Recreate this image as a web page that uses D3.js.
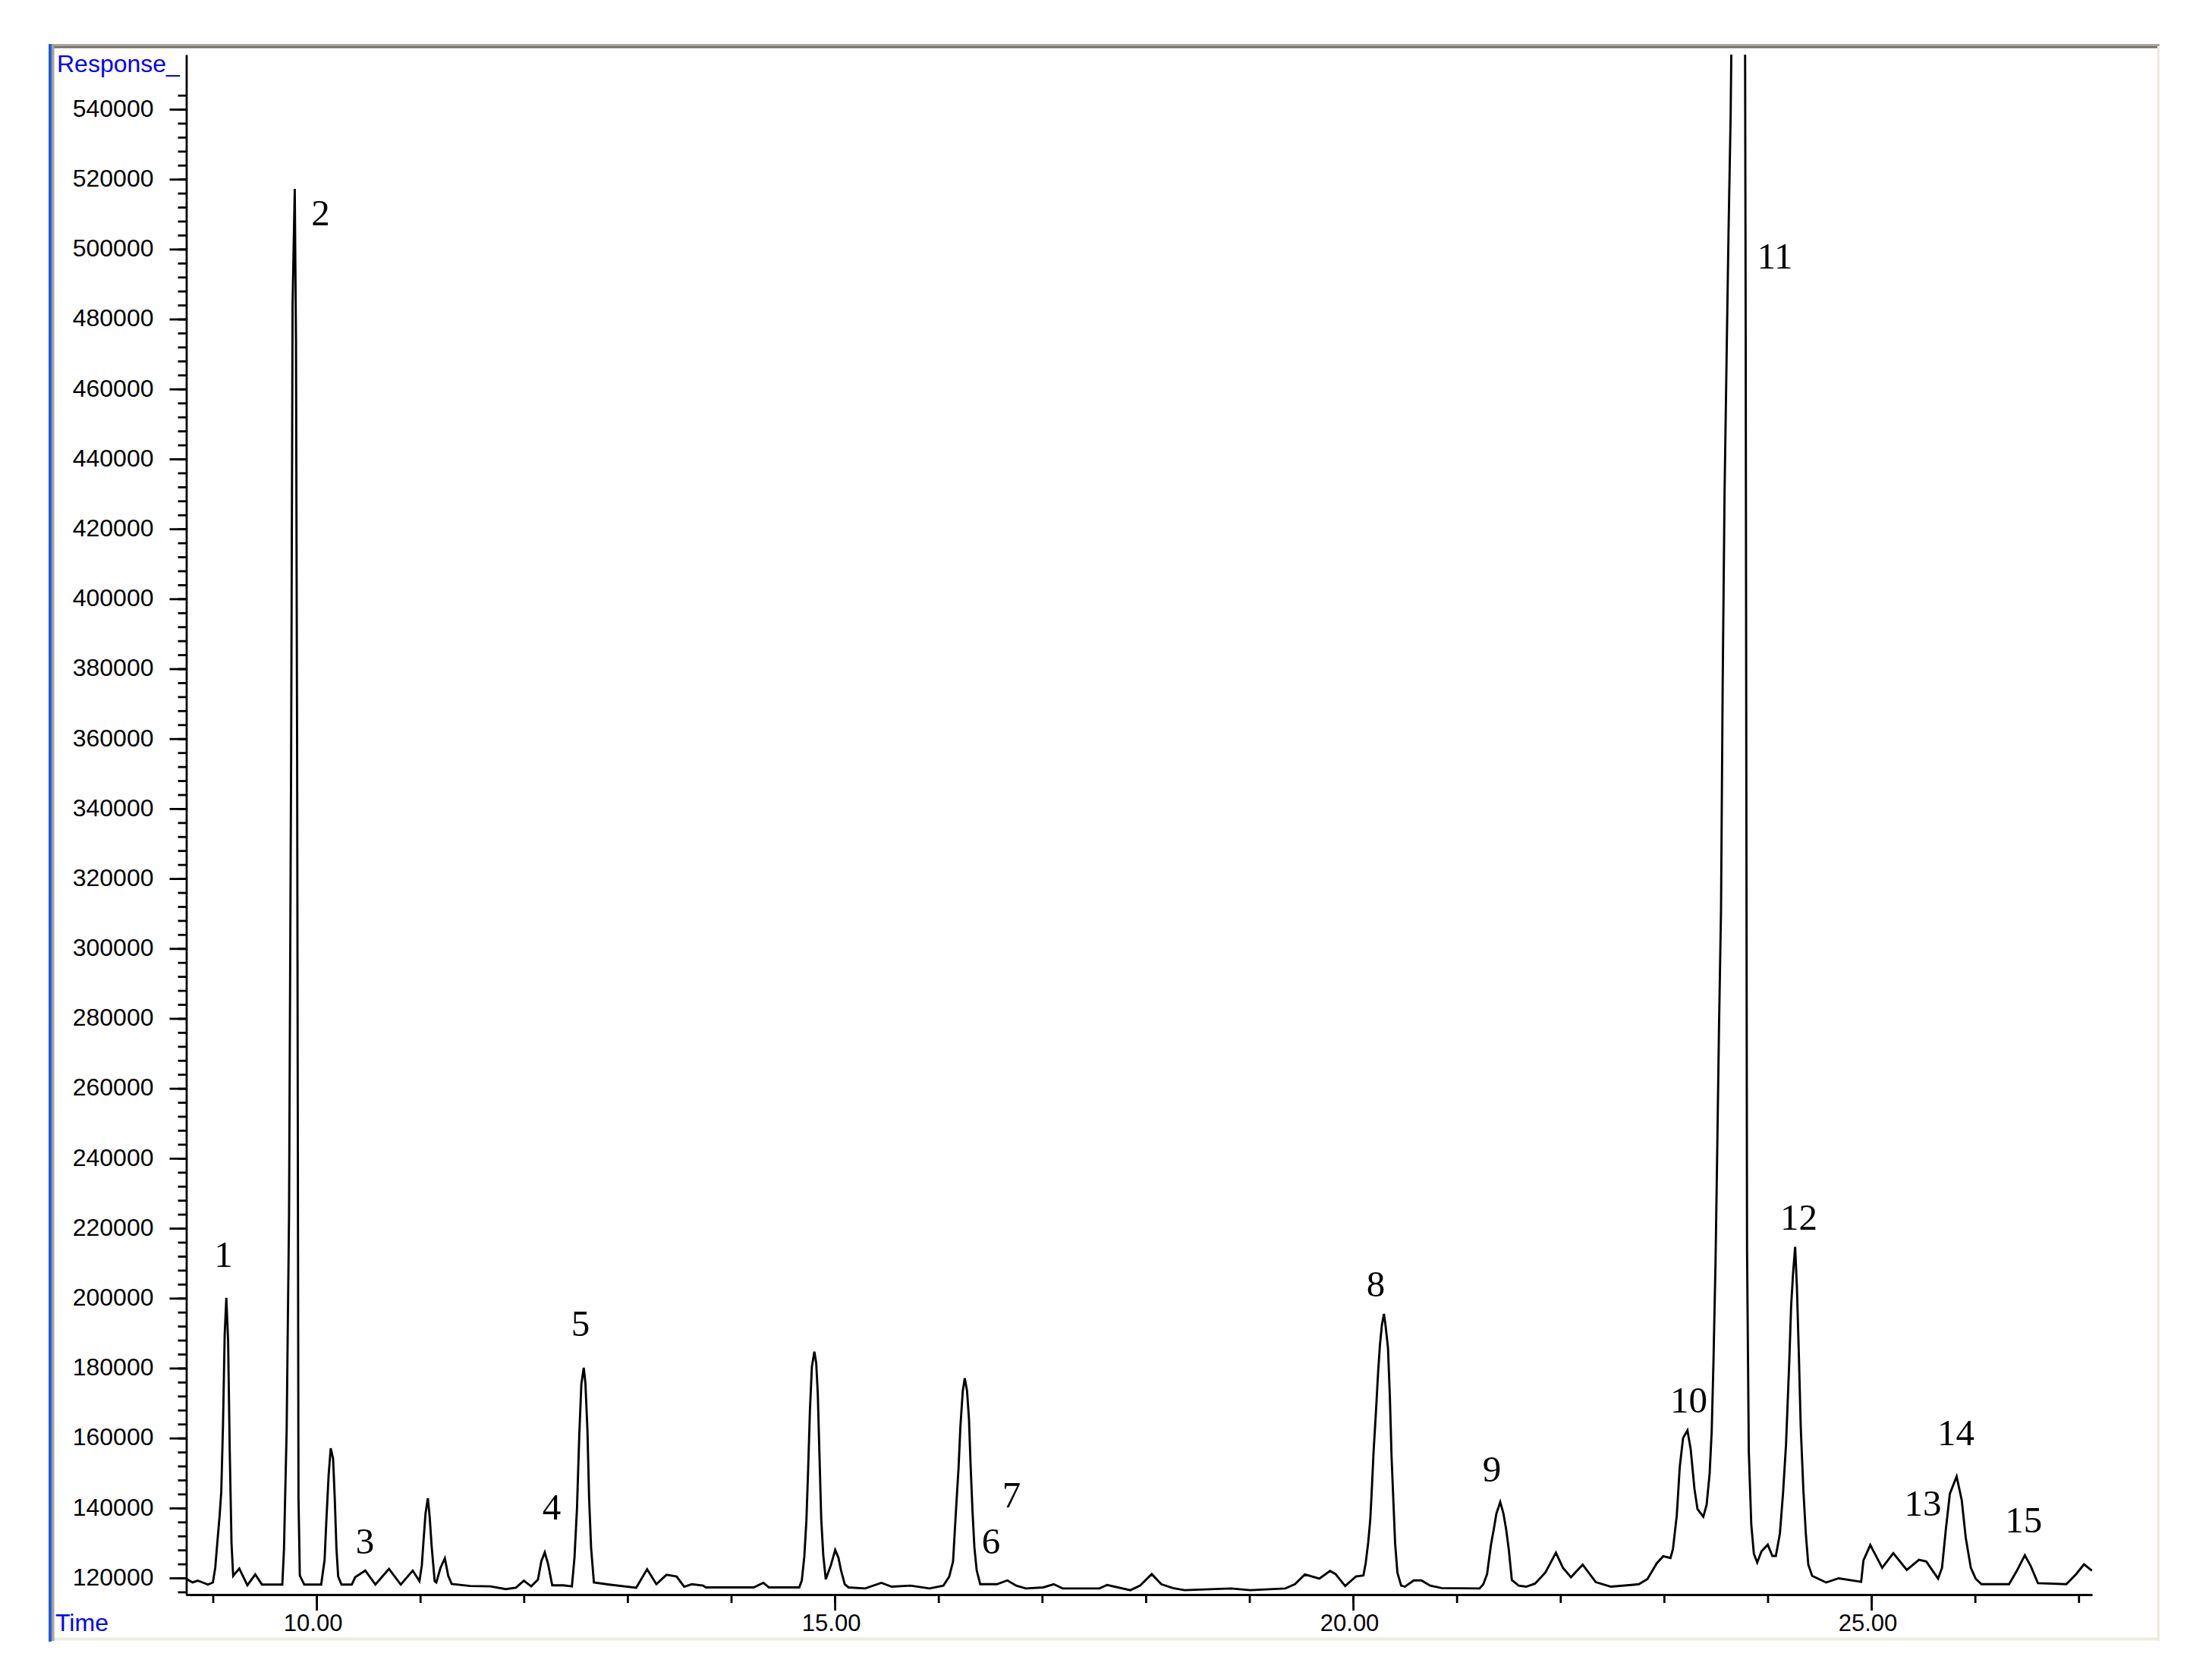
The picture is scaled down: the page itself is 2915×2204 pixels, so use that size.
<!DOCTYPE html>
<html><head><meta charset="utf-8">
<style>html,body{margin:0;padding:0;background:#fff;}svg{display:block;}</style>
<script src="https://cdn.jsdelivr.net/npm/d3@7"></script>
</head><body>
<svg id="c" width="2915" height="2204"></svg>
<script>
// ---- data (retention time in minutes, detector response) ----
const times = [
 8.738,8.804,8.853,8.902,8.951,9.000,9.023,9.043,9.065,9.081,9.098,9.114,9.130,9.147,9.163,9.180,9.196,9.255,9.333,9.409,9.474,9.670,
 9.686,9.712,9.735,9.755,9.769,9.790,9.802,9.813,9.821,9.826,9.839,9.882,10.045,
 10.078,10.094,10.117,10.137,10.160,10.176,10.192,10.209,10.241,10.340,10.373,10.471,10.568,10.699,10.813,10.928,10.993,
 11.016,11.032,11.052,11.074,11.091,11.111,11.140,11.156,11.196,11.238,11.271,11.304,11.483,11.679,11.826,11.924,12.000,12.071,
 12.136,12.169,12.202,12.234,12.274,12.382,12.464,12.489,12.513,12.535,12.555,12.578,12.594,12.614,12.630,12.649,12.676,12.823,
 13.084,13.189,13.279,13.376,13.474,13.547,13.621,13.730,13.755,14.218,14.311,14.364,14.657,
 14.682,14.706,14.726,14.743,14.760,14.779,14.803,14.821,14.836,14.853,14.869,14.889,14.913,14.962,15.004,15.035,15.060,15.096,15.133,
 15.292,15.450,15.548,15.731,15.914,16.048,16.104,16.141,16.171,16.194,16.212,16.235,16.254,16.276,16.295,16.310,16.328,16.347,16.369,16.403,
 16.470,16.564,16.665,16.751,16.843,17.012,17.112,17.198,17.553,17.628,17.852,17.946,18.058,18.150,18.262,18.374,18.822,19.010,19.346,19.439,
 19.535,19.675,19.778,19.831,19.924,20.027,20.100,
 20.122,20.146,20.166,20.181,20.198,20.222,20.242,20.259,20.278,20.298,20.313,20.337,20.355,20.371,20.391,20.406,20.428,20.464,20.501,
 20.586,20.659,20.745,20.855,21.221,21.257,21.293,21.330,21.361,21.383,21.420,21.451,21.476,21.503,21.532,21.598,21.671,
 21.756,21.854,21.957,22.025,22.103,22.215,22.342,22.488,22.684,22.757,22.840,22.930,22.992,23.062,23.086,
 23.123,23.152,23.184,23.226,23.257,23.294,23.323,23.379,23.411,23.440,23.460,23.477,23.497,23.514,23.531,23.550,23.566,23.584,23.606,23.623,23.643,
 23.700,23.782,23.788,23.796,23.801,23.818,23.842,23.867,23.899,23.940,24.001,24.045,24.079,
 24.118,24.148,24.177,24.209,24.226,24.245,24.265,24.282,24.300,24.319,24.344,24.368,24.392,24.429,24.564,24.685,24.902,
 24.924,24.990,25.105,25.212,25.342,25.460,25.530,25.644,25.682,25.720,25.758,25.823,25.872,25.911,25.960,26.006,26.063,
 26.329,26.405,26.481,26.538,26.607,26.881,26.976,27.052,27.128
];
const responses = [
 119850,118700,119240,118700,118100,118700,122900,130100,137700,144600,164000,189500,200100,187900,156000,129800,120600,122700,117900,121000,118100,118100,
 128100,162500,224100,354100,484200,517200,473400,354100,224100,143000,120700,118100,118100,
 125200,135800,149500,157100,154100,142700,128600,120400,118100,118100,120200,122100,118100,122600,118100,122100,119100,
 123600,130500,138500,142800,137700,129000,119100,118700,122900,125600,120600,118300,117700,117600,116800,117200,119200,117600,
 119500,124800,127300,124000,117900,117900,117600,125900,140000,160900,175400,180100,175800,162100,142700,128600,118700,118100,
 117200,122500,118200,120900,120400,117500,118200,117800,117300,117300,118600,117300,117300,
 119300,126100,136300,151100,167700,180400,184700,181400,172700,154300,137000,126500,119600,123600,128000,125800,122200,118200,117300,
 117000,118600,117500,117800,117000,117800,120400,124700,140200,151400,163400,173500,177100,173500,165200,152500,139500,128700,122200,118200,
 118200,118200,119300,117800,117000,117300,118200,117000,117000,118000,116500,117800,121100,118200,117100,116500,117000,116500,117000,118200,
 121000,119800,122000,121100,117700,120400,120700,
 124300,130100,136600,145300,156100,168100,178900,186500,192300,195500,192300,185800,172000,155100,140600,129800,121500,117800,117500,
 119300,119300,117800,117100,117000,118200,121100,129400,134500,138400,141700,138400,134100,128000,119400,117800,117500,
 118400,121500,127200,122900,120200,123800,118800,117500,118000,118200,119700,124200,126200,125700,128200,
 137800,151800,160000,162200,156900,145400,139700,137500,140900,149800,161900,181600,210300,243400,278300,310800,375800,430000,473400,505900,538400,
 700000,560000,475600,310800,214100,156200,135200,126900,124400,127600,129500,126300,126300,
 132700,144100,158100,182300,197500,207100,214700,203300,184800,163200,145400,132700,123800,120600,118700,119900,118900,
 125000,129400,122900,127100,122300,125200,124700,119800,122900,134200,144100,149000,142300,131500,122900,119800,118200,
 118200,122100,126500,123400,118500,118200,121100,123900,122100
];
const yMajorTicks = d3.range(120000, 540001, 20000);
const yMinorTicks = d3.range(116000, 544001, 4000);
const xMajorTicks = [10, 15, 20, 25];
const xMinorTicks = d3.range(9, 28, 1);
const peakLabels = ["1","2","3","4","5","6","7","8","9","10","11","12","13","14","15"];
const peakLabelTime = [9.103,10.040,10.468,12.269,12.547,16.507,16.705,20.219,21.339,23.239,24.070,24.300,25.497,25.816,26.469];
const peakLabelResponse = [208950,506800,126940,136700,189200,126940,140180,200480,147550,167300,494440,219580,137790,158070,133020];

// ---- layout ----
const svg = d3.select("#c");
const x = d3.scaleLinear().domain([8.74, 27.13]).range([245, 2757]);
const y = d3.scaleLinear().domain([115230, 555620]).range([2102, 72]);
const sans = "'Liberation Sans', Arial, sans-serif";
const serif = "'Liberation Serif', 'Times New Roman', serif";

// window frame
svg.append("rect").attr("x",64).attr("y",58).attr("width",2782).attr("height",2105).attr("fill","#fff");
svg.append("rect").attr("x",64).attr("y",58).attr("width",2782).attr("height",3).attr("fill","#a8a496");
svg.append("rect").attr("x",68).attr("y",61).attr("width",2775).attr("height",2.5).attr("fill","#6f6c62");
svg.append("rect").attr("x",2842.5).attr("y",63).attr("width",3.5).attr("height",2100).attr("fill","#eeebe0");
svg.append("rect").attr("x",64).attr("y",2158.5).attr("width",2782).attr("height",4).attr("fill","#eeebe0");
svg.append("rect").attr("x",68).attr("y",58).attr("width",3.5).attr("height",2105).attr("fill","#a5a294");
svg.append("rect").attr("x",64).attr("y",58).attr("width",4).attr("height",2106).attr("fill","#1f5fe0");

// clip
svg.append("defs").append("clipPath").attr("id","plot")
  .append("rect").attr("x",245).attr("y",72).attr("width",2513).attr("height",2030);

// trace
const pts = times.map((t,i)=>({t, v: responses[i]}));
const line = d3.line().x(d=>x(d.t)).y(d=>y(d.v));
svg.append("path").datum(pts).attr("d", line).attr("fill","none")
  .attr("stroke","#000").attr("stroke-width",2.9).attr("stroke-linejoin","miter")
  .attr("clip-path","url(#plot)");

// y axis
const gy = svg.append("g").attr("transform","translate(245.5,0)");
gy.call(d3.axisLeft(y).tickValues(yMinorTicks).tickSize(11).tickSizeOuter(0).tickFormat(""));
gy.call(g=>g.selectAll("path,line").attr("stroke","#000").attr("stroke-width",2.8));
const gyM = svg.append("g").attr("transform","translate(245.5,0)");
gyM.call(d3.axisLeft(y).tickValues(yMajorTicks).tickSize(22).tickSizeOuter(0).tickPadding(21).tickFormat(d3.format("d")));
gyM.select(".domain").remove();
gyM.selectAll("line").attr("stroke","#000").attr("stroke-width",2.8);
gyM.selectAll("text").attr("font-family",sans).attr("font-size",32).attr("fill","#000").attr("dy","0.29em");

// x axis
const gx = svg.append("g").attr("transform","translate(0,2102)");
gx.call(d3.axisBottom(x).tickValues(xMinorTicks).tickSize(11).tickSizeOuter(0).tickFormat(""));
gx.selectAll("path,line").attr("stroke","#000").attr("stroke-width",2.8);
const gxM = svg.append("g").attr("transform","translate(0,2102)");
gxM.call(d3.axisBottom(x).tickValues(xMajorTicks).tickSize(21).tickSizeOuter(0).tickFormat(d3.format(".2f")));
gxM.select(".domain").remove();
gxM.selectAll("line").attr("stroke","#000").attr("stroke-width",2.8);
gxM.selectAll("text").attr("font-family",sans).attr("font-size",31).attr("fill","#000")
  .attr("y",48).attr("dy",0).attr("dx",-5);

// axis titles
svg.append("text").attr("x",75).attr("y",95).attr("font-family",sans).attr("font-size",32)
  .attr("fill","#0000ff").text("Response_");
svg.append("text").attr("x",73).attr("y",2150).attr("font-family",sans).attr("font-size",32)
  .attr("fill","#0000ff").text("Time");

// peak labels
svg.append("g").selectAll("text").data(peakLabels).join("text")
  .attr("x",(d,i)=>x(peakLabelTime[i])).attr("y",(d,i)=>y(peakLabelResponse[i]))
  .attr("text-anchor","middle").attr("font-family",serif).attr("font-size",49)
  .attr("fill","#000").text(d=>d);
</script>
</body></html>
